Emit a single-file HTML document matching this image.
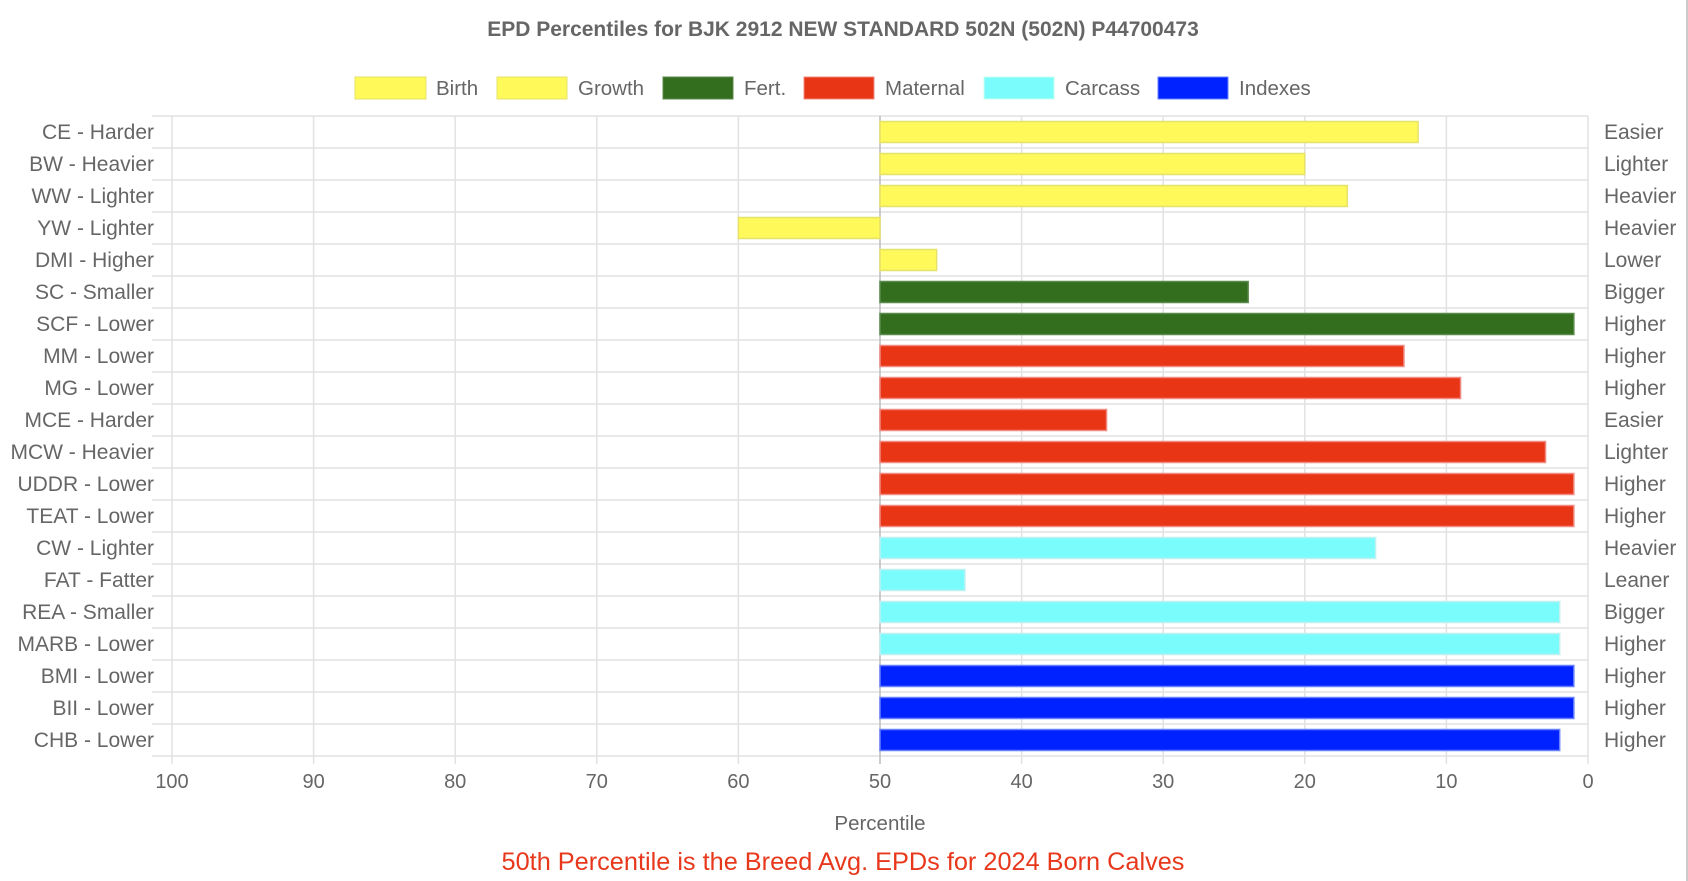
<!DOCTYPE html>
<html><head><meta charset="utf-8"><style>
html,body{margin:0;padding:0;background:#fff;}
svg{display:block;font-family:"Liberation Sans",Arial,sans-serif;}
</style></head><body>
<svg width="1688" height="881" viewBox="0 0 1688 881" xmlns="http://www.w3.org/2000/svg">
<rect width="1688" height="881" fill="#fff"/>
<line x1="1687" y1="0" x2="1687" y2="881" stroke="#ccc" stroke-width="2"/>
<text x="843" y="36" text-anchor="middle" font-size="21" font-weight="bold" fill="#666">EPD Percentiles for BJK 2912 NEW STANDARD 502N (502N) P44700473</text>
<g font-size="20.5" fill="#666">
<rect x="355" y="77" width="71" height="22" fill="#fffa5a" stroke="#e6e16a"/><text x="436" y="95">Birth</text>
<rect x="497" y="77" width="70" height="22" fill="#fffa5a" stroke="#e6e16a"/><text x="578" y="95">Growth</text>
<rect x="663" y="77" width="70" height="22" fill="#336e1e" stroke="#5a8a4a"/><text x="744" y="95">Fert.</text>
<rect x="804" y="77" width="70" height="22" fill="#e83515" stroke="#f08a80"/><text x="885" y="95">Maternal</text>
<rect x="984" y="77" width="70" height="22" fill="#7afcfc" stroke="#cfe"/><text x="1065" y="95">Carcass</text>
<rect x="1158" y="77" width="70" height="22" fill="#0022ff" stroke="#6680ff"/><text x="1239" y="95">Indexes</text>
</g>
<g id="grid" stroke="#e2e2e2" stroke-width="1.5"></g>
<g id="bars"></g>
<g id="labels" font-size="20" fill="#666"></g>
<g id="rlabels" font-size="21" fill="#666"></g>
<text x="880" y="830" text-anchor="middle" font-size="20.5" fill="#666">Percentile</text>
<text x="843" y="870" text-anchor="middle" font-size="25.3" fill="#e8381c">50th Percentile is the Breed Avg. EPDs for 2024 Born Calves</text>
<script>
(function(){
var ns="http://www.w3.org/2000/svg";
function el(p,t,a,txt){var e=document.createElementNS(ns,t);for(var k in a)e.setAttribute(k,a[k]);if(txt)e.textContent=txt;document.getElementById(p).appendChild(e);}
var X=function(v){return 1588-v*14.16;};
var T=116,rh=32,n=20;
for(var i=0;i<=n;i++){var y=T+i*rh;el("grid","line",{x1:152,x2:1588,y1:y,y2:y});}
for(var v=0;v<=100;v+=10){var x=X(v);el("grid","line",{x1:x,x2:x,y1:T,y2:T+n*rh+8,stroke:v==50?"#bbb":"#e2e2e2"});el("labels","text",{x:x,y:788,"text-anchor":"middle"},""+v);}
var d=[["CE - Harder","Easier",12,0],["BW - Heavier","Lighter",20,0],["WW - Lighter","Heavier",17,0],["YW - Lighter","Heavier",60,0],["DMI - Higher","Lower",46,0],
["SC - Smaller","Bigger",24,1],["SCF - Lower","Higher",1,1],["MM - Lower","Higher",13,2],["MG - Lower","Higher",9,2],["MCE - Harder","Easier",34,2],["MCW - Heavier","Lighter",3,2],["UDDR - Lower","Higher",1,2],["TEAT - Lower","Higher",1,2],
["CW - Lighter","Heavier",15,3],["FAT - Fatter","Leaner",44,3],["REA - Smaller","Bigger",2,3],["MARB - Lower","Higher",2,3],["BMI - Lower","Higher",1,4],["BII - Lower","Higher",1,4],["CHB - Lower","Higher",2,4]];
var cf=["#fffa5a","#336e1e","#e83515","#7afcfc","#0022ff"],cs=["#e6e16a","#5a8a4a","#f08a80","#c0f0f0","#6680ff"];
d.forEach(function(r,i){var cy=T+i*rh+rh/2;var x1=X(50),x2=X(r[2]);var a=Math.min(x1,x2),w=Math.abs(x2-x1);
el("bars","rect",{x:a,y:cy-10.5,width:w,height:21,fill:cf[r[3]],stroke:cs[r[3]],"stroke-width":1.5});
el("rlabels","text",{x:154,y:cy+7,"text-anchor":"end"},r[0]);el("rlabels","text",{x:1604,y:cy+7},r[1]);});
})();
</script>
</svg>
</body></html>
